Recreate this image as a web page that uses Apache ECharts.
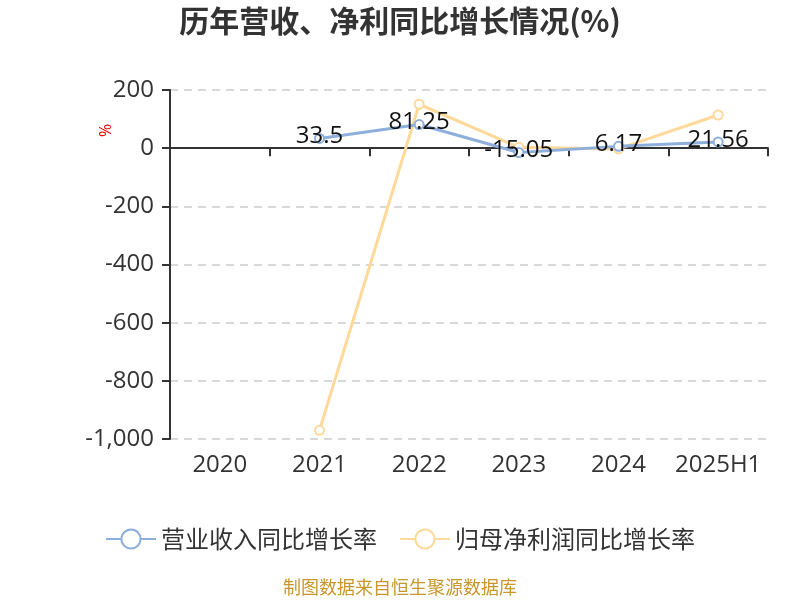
<!DOCTYPE html>
<html><head><meta charset="utf-8">
<script src="https://cdn.jsdelivr.net/npm/echarts@6/dist/echarts.min.js"></script>
<style>html,body{margin:0;padding:0;background:#fff}#c{width:800px;height:600px}</style>
</head><body><div id="c"></div>
<script>
var categories = ['2020','2021','2022','2023','2024','2025H1'];
var revenueGrowth = [null, 33.5, 81.25, -15.05, 6.17, 21.56];
var profitGrowth = [null, -970, 151, 3, -2.5, 114];
var seriesNames = ['营业收入同比增长率','归母净利润同比增长率'];
var FONT = "'Open Sans','Noto Sans CJK SC',sans-serif";
var CJK = "'Noto Sans CJK SC',sans-serif";
var chart = echarts.init(document.getElementById('c'));
chart.setOption({
  animation:false,
  title:{text:'历年营收、净利同比增长情况(%)',left:'center',top:1,textStyle:{fontSize:30,fontWeight:'bold',color:'#333',fontFamily:CJK}},
  legend:{bottom:44,left:'center',itemWidth:50,itemHeight:24,itemGap:22,textStyle:{fontSize:24,color:'#333',fontFamily:CJK},data:seriesNames},
  grid:{left:170,right:32,top:90,bottom:161},
  graphic:[
    {type:'text',left:'center',top:578,style:{text:'制图数据来自恒生聚源数据库',fill:'#C8962A',fontSize:18,fontFamily:CJK}},
    {type:'text',x:98,y:137,rotation:Math.PI/2,style:{text:'%',fill:'#e00',fontSize:16,fontFamily:FONT}}
  ],
  xAxis:[
    {type:'category',data:categories,position:'bottom',axisLine:{show:false,onZero:false},axisTick:{show:false},
     axisLabel:{fontSize:24,color:'#333',margin:14,interval:0,fontFamily:FONT}},
    {type:'category',data:categories,position:'bottom',axisLine:{show:true,onZero:true,onZeroAxisIndex:0,lineStyle:{color:'#333',width:2}},
     axisTick:{show:true,length:8,lineStyle:{color:'#333',width:2}},axisLabel:{show:false}}
  ],
  yAxis:{type:'value',min:-1000,max:200,interval:200,
    axisLine:{show:true,onZero:false,lineStyle:{color:'#333',width:2}},
    axisTick:{show:true,length:8,lineStyle:{color:'#333',width:2}},
    axisLabel:{fontSize:24,color:'#333',margin:16,fontFamily:FONT,formatter:function(v){return v.toLocaleString('en-US');}},
    splitLine:{show:true,lineStyle:{color:'#ccc',type:[8,6],width:1.5}}},
  series:[
    {name:seriesNames[0],type:'line',data:revenueGrowth,symbol:'emptyCircle',symbolSize:9,z:3,
     itemStyle:{color:'#8EAEDC'},lineStyle:{width:3,color:'#8EAEDC'},
     label:{show:true,position:'inside',offset:[0,-2],fontSize:24,color:'#111',fontFamily:FONT}},
    {name:seriesNames[1],type:'line',data:profitGrowth,symbol:'emptyCircle',symbolSize:9,z:2,
     itemStyle:{color:'#FFD99A'},lineStyle:{width:3,color:'#FFD99A'},label:{show:false}}
  ]
});
</script></body></html>
